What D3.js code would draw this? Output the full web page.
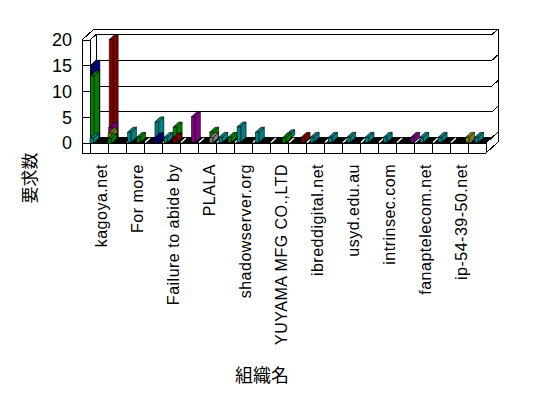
<!DOCTYPE html>
<html>
<head>
<meta charset="utf-8">
<script src="https://cdn.jsdelivr.net/npm/d3@7"></script>
<style>
  html, body { margin: 0; padding: 0; background: #fff; }
  svg { display: block; }
</style>
</head>
<body>
<div id="chart"></div>
<script>
// ── data ──
// 44 categories; the axis shows only every 4th label
const nCategories = 44;
const categoryLabels = ["kagoya.net", "For more", "Failure to abide by", "PLALA", "shadowserver.org",
  "YUYAMA MFG CO.,LTD", "ibreddigital.net", "usyd.edu.au", "intrinsec.com", "fanaptelecom.net", "ip-54-39-50.net"];
const yTicks = [0, 5, 10, 15, 20];

const teal   = [1,0,0,0,2,0,0,4,1,0, 0,0,0,0,1,0,3,0,2,0, 0,1,0,0,1,0,1,0,1,0, 1,0,1,0,0,0,1,0,1,0, 0,0,1,0];
const green  = [13,0,1,0,0,1,0,0,0,3, 0,0,0,2,0,1,0,0,0,0, 0,1,0,0,0,0,0,0,0,0, 0,0,0,0,0,0,0,0,0,0, 0,0,0,0];
const navy   = [15,0,0,0,0,0,0,1,0,0, 0,0,0,0,0,0,0,0,0,0, 0,0,0,0,0,0,0,0,0,0, 0,0,0,0,0,0,0,0,0,0, 0,0,0,0];
const maroon = [0,0,20,0,0,0,0,0,0,1, 0,0,0,0,0,0,0,0,0,0, 0,0,0,1,0,0,0,0,0,0, 0,0,0,0,0,0,0,0,0,0, 0,0,0,0];
const purple = [0,0,3,0,0,0,0,0,0,0, 0,5,0,0,0,0,0,0,0,0, 0,0,0,0,0,0,0,0,0,0, 0,0,0,0,0,1,0,0,0,0, 0,0,0,0];
const olive  = [0,0,2,0,0,0,0,0,0,0, 0,0,0,0,0,0,0,0,0,0, 0,0,0,0,0,0,0,0,0,0, 0,0,0,0,0,0,0,0,0,0, 0,1,0,0];
const gray   = [0,0,0,0,0,0,0,0,0,0, 0,0,0,1,0,0,0,0,0,0, 0,0,0,0,0,0,0,0,0,0, 0,0,0,0,0,0,0,0,0,0, 0,0,0,0];

// back-to-front order when two bars are equal
const series = [
  { name: "navy",   color: "#000080", values: navy },
  { name: "maroon", color: "#800000", values: maroon },
  { name: "purple", color: "#800080", values: purple },
  { name: "olive",  color: "#808000", values: olive },
  { name: "teal",   color: "#008080", values: teal },
  { name: "green",  color: "#008000", values: green },
  { name: "gray",   color: "#808080", values: gray },
];

// ── layout ──
const W = 548, H = 398;
const DX = 6, DY = -5.5;          // one depth step (front -> back wall)
const X0 = 90, X1 = 486;          // front plane, category extent
const WALL = 8, FLOOR = 10;       // wall / floor thickness

const y = d3.scaleLinear().domain([0, 20]).range([143, 40]);
const xTick = d3.scaleBand().domain(d3.range(nCategories / 2)).range([X0, X1]);
const xBar = d3.scaleBand().domain(d3.range(nCategories)).range([89, 491]);

const svg = d3.select("#chart").append("svg").attr("width", W).attr("height", H)
  .style("font-family", "'Liberation Sans', Arial, sans-serif");
svg.append("rect").attr("width", W).attr("height", H).attr("fill", "#fff");

const line = d3.line();
const frame = svg.append("g").attr("fill", "none").attr("stroke", "#000").attr("stroke-width", 1)
  .attr("shape-rendering", "crispEdges");

const yTop = y(20), y0 = y(0), xl = X0 - WALL, yb = y0 + FLOOR;

// floor top (black) with white grid marks
svg.insert("path", "g").attr("fill", "#000")
  .attr("d", line([[X0, y0], [X1, y0], [X1 + DX, y0 + DY], [X0 + DX, y0 + DY]]) + "Z");
svg.append("g").attr("stroke", "#fff").attr("stroke-width", 1.5)
  .selectAll("line").data(d3.range(1, nCategories / 2)).join("line")
  .attr("x1", d => xTick(d) + 1).attr("y1", y0 - 0.5)
  .attr("x2", d => xTick(d) + DX).attr("y2", y0 + DY + 0.5);

// walls and outline
const segs = [
  [[xl, yTop], [xl, yb], [X1, yb], [X1 + 2 * DX, yb + 2 * DY], [X1 + 2 * DX, yTop + 2 * DY], [xl + 2 * DX, yTop + 2 * DY], [xl, yTop]],
  [[xl, yTop], [X0, yTop], [X0 + DX, yTop + DY], [X1 + DX, yTop + DY], [X1 + 2 * DX, yTop + 2 * DY]],
  [[X0, yTop], [X0, yb]],
  [[X0 + DX, yTop + DY], [X0 + DX, y0 + DY]],
  [[xl, y0], [X0, y0], [X1, y0], [X1, yb]],
  [[X0, y0], [X0 + DX, y0 + DY], [X1 + DX, y0 + DY], [X1 + 2 * DX, y0 + 2 * DY]],
  [[X1, y0], [X1 + 2 * DX, y0 + 2 * DY]],
];
yTicks.filter(v => v > 0 && v < 20).forEach(v => {
  const yy = y(v);
  segs.push([[xl, yy], [X0, yy], [X0 + DX, yy + DY], [X1 + DX, yy + DY], [X1 + 2 * DX, yy + 2 * DY]]);
});
frame.selectAll("path.seg").data(segs).join("path").attr("class", "seg").attr("d", d => line(d));

// tick cells on the floor front
frame.selectAll("line.cell").data(d3.range(1, nCategories / 2)).join("line").attr("class", "cell")
  .attr("x1", d => xTick(d)).attr("x2", d => xTick(d)).attr("y1", y0).attr("y2", yb);

// ── bars ──
// taller bars sit behind shorter ones; equal bars are nudged back so both show
const BW = 3.5, BDX = 5.4, BDY = -4.95, STEP_X = -0.5, STEP_Y = 0.4;
const bars = [];
d3.range(nCategories).forEach(i => {
  const items = series.map((s, k) => ({ s, k, v: s.values[i] })).filter(d => d.v > 0)
    .sort((a, b) => b.v - a.v || a.k - b.k);
  items.forEach((d, r) => {
    const ties = items.slice(r + 1).filter(o => o.v === d.v).length;
    bars.push({ i, r, ties, v: d.v, color: d.s.color });
  });
});

const gb = svg.append("g").attr("stroke", "#000").attr("stroke-width", 0.6).attr("stroke-linejoin", "round");
bars.forEach(b => {
  const fx = xBar(b.i) + 2 + STEP_X * b.r + 3 * b.ties;
  const shiftY = STEP_Y * b.r - 2.5 * b.ties;
  const base = y(0) - 0.55 + shiftY;
  const top = y(b.v) - 0.55 + shiftY;
  const g = gb.append("g").attr("fill", b.color);
  g.append("path").attr("d", line([[fx + BW, base], [fx + BW + BDX, base + BDY], [fx + BW + BDX, top + BDY], [fx + BW, top]]) + "Z");
  g.append("path").attr("d", line([[fx, top], [fx + BW, top], [fx + BW + BDX, top + BDY], [fx + BDX, top + BDY]]) + "Z");
  g.append("rect").attr("x", fx).attr("y", top).attr("width", BW).attr("height", base - top);
});

// ── axis labels ──
svg.append("g").attr("font-size", 18).attr("text-anchor", "end")
  .selectAll("text").data(yTicks).join("text")
  .attr("x", 72).attr("y", d => y(d)).attr("dy", "0.35em").text(d => d);

svg.append("g").attr("font-size", 16).attr("letter-spacing", 0.5).attr("text-anchor", "end")
  .selectAll("text").data(categoryLabels).join("text")
  .attr("transform", (d, k) => `translate(${xTick(k * 2) + xTick.bandwidth() / 2 + 2},164) rotate(-90)`)
  .attr("dy", "0.35em").text(d => d);

svg.append("text").attr("font-family", "'Noto Sans CJK JP', sans-serif").attr("font-size", 17)
  .attr("text-anchor", "middle").attr("transform", "translate(30,178) rotate(-90)").attr("dy", "0.35em")
  .text("要求数");

svg.append("text").attr("font-family", "'Noto Sans CJK JP', sans-serif").attr("font-size", 18)
  .attr("text-anchor", "middle").attr("x", 262).attr("y", 376).attr("dy", "0.35em")
  .text("組織名");
</script>
</body>
</html>
